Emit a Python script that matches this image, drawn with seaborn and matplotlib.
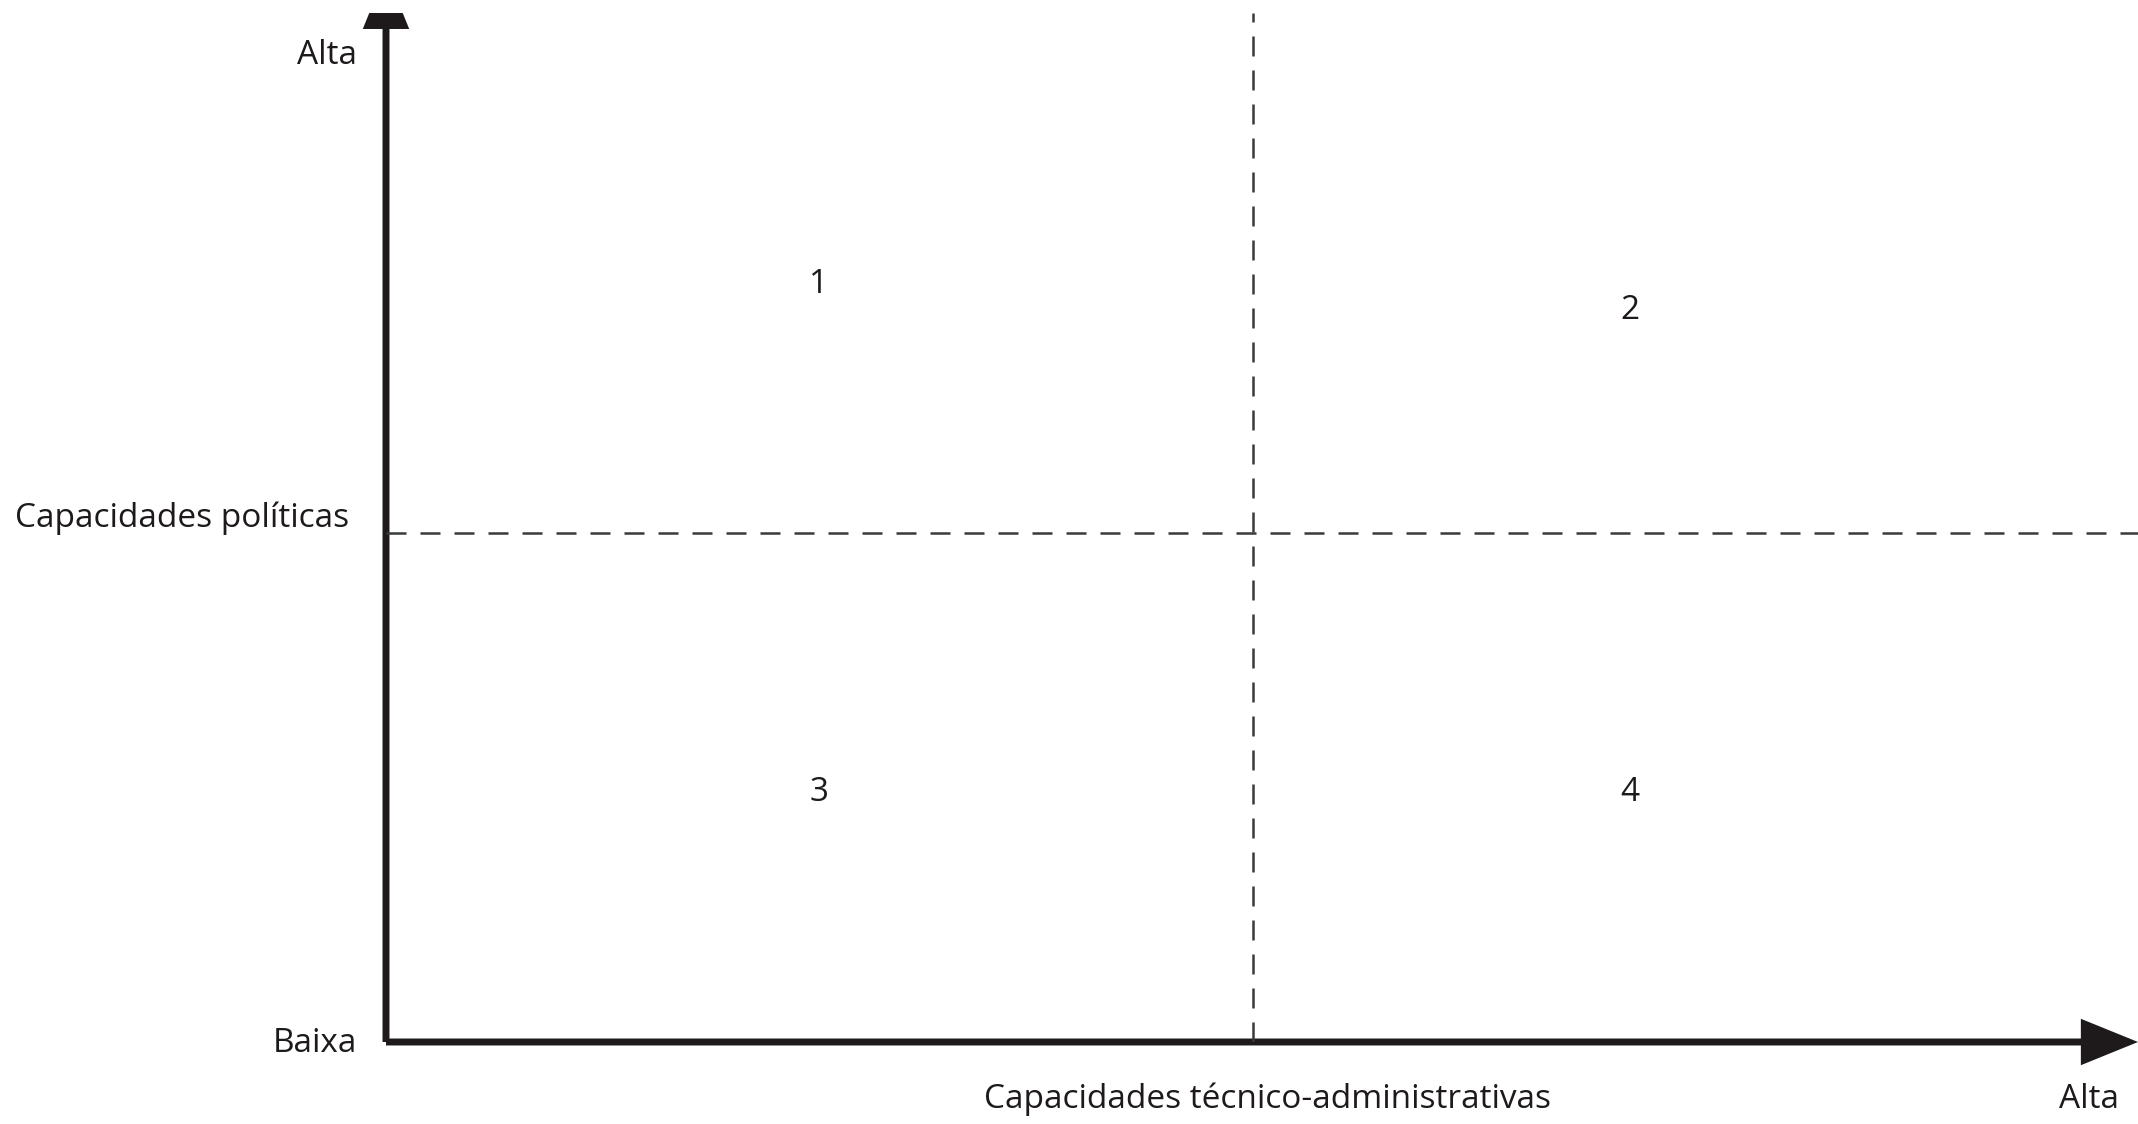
import matplotlib
matplotlib.use("Agg")
import matplotlib.pyplot as plt
import seaborn as sns
import pandas as pd
from matplotlib.patches import FancyArrowPatch
from matplotlib.transforms import Bbox

# Quadrant labels and where they sit (axis units, 0..1)
quadrant_ids = ["1", "2", "3", "4"]
quadrant_x = [0.247, 0.710, 0.247, 0.710]
quadrant_y = [0.736, 0.711, 0.242, 0.242]

# Split lines between "low" and "high"
mid_x = 0.495
mid_y = 0.495

x_title = "Capacidades técnico-administrativas"
y_title = "Capacidades políticas"
low_label = "Baixa"
high_label = "Alta"

sns.set_theme(style="white")
plt.rcParams["font.family"] = ["Open Sans", "DejaVu Sans"]

ink = "#1e1a1b"
dash_col = "#3a3a3a"
fs = 24

W, H = 2138, 1124
fig = plt.figure(figsize=(W / 100, H / 100), dpi=100)
# axes: origin at (386, 1042) px, top edge at 13 px, right edge at figure edge
ax = fig.add_axes([386 / W, (H - 1042) / H, (W - 386) / W, (1042 - 13) / H])
ax.set_xlim(0, 1)
ax.set_ylim(0, 1)
ax.axis("off")

# dashed split lines
vline = pd.DataFrame({"x": [mid_x, mid_x], "y": [0, 1]})
hline = pd.DataFrame({"x": [0, 1], "y": [mid_y, mid_y]})
for d in (vline, hline):
    sns.lineplot(data=d, x="x", y="y", ax=ax, color=dash_col, lw=1.8,
                 dashes=False, sort=False, estimator=None)
for ln in ax.lines:
    ln.set_dashes((8, 5.6))

# axes with arrow heads; only the top of the figure cuts the upper arrow
clip = Bbox.from_extents(0, 0, W, H - 13)
for a, b in [((0, 0), (1.0, 0)), ((0, 0), (0, 1.04))]:
    arr = FancyArrowPatch(a, b, arrowstyle="-|>,head_length=1.6,head_width=0.65",
                          mutation_scale=20, lw=5, color=ink,
                          shrinkA=0, shrinkB=0, capstyle="butt", joinstyle="miter")
    ax.add_patch(arr)
    arr.set_clip_path(None)
    arr.set_clip_box(clip)

# quadrant numbers
for lab, qx, qy in zip(quadrant_ids, quadrant_x, quadrant_y):
    ax.text(qx, qy, lab, ha="center", va="center", fontsize=fs, color=ink)

# labels around the axes (figure coords)
fig.text(357 / W, 1 - 55 / H, high_label, ha="right", va="center", fontsize=fs, color=ink)
fig.text(349 / W, 1 - 518 / H, y_title, ha="right", va="center", fontsize=fs, color=ink)
fig.text(357 / W, 1 - 1044 / H, low_label, ha="right", va="center", fontsize=fs, color=ink)
fig.text(1268 / W, 1 - 1099 / H, x_title, ha="center", va="center", fontsize=fs, color=ink)
fig.text(2089 / W, 1 - 1099 / H, high_label, ha="center", va="center", fontsize=fs, color=ink)

fig.savefig("out.png", dpi=100, facecolor="white")
